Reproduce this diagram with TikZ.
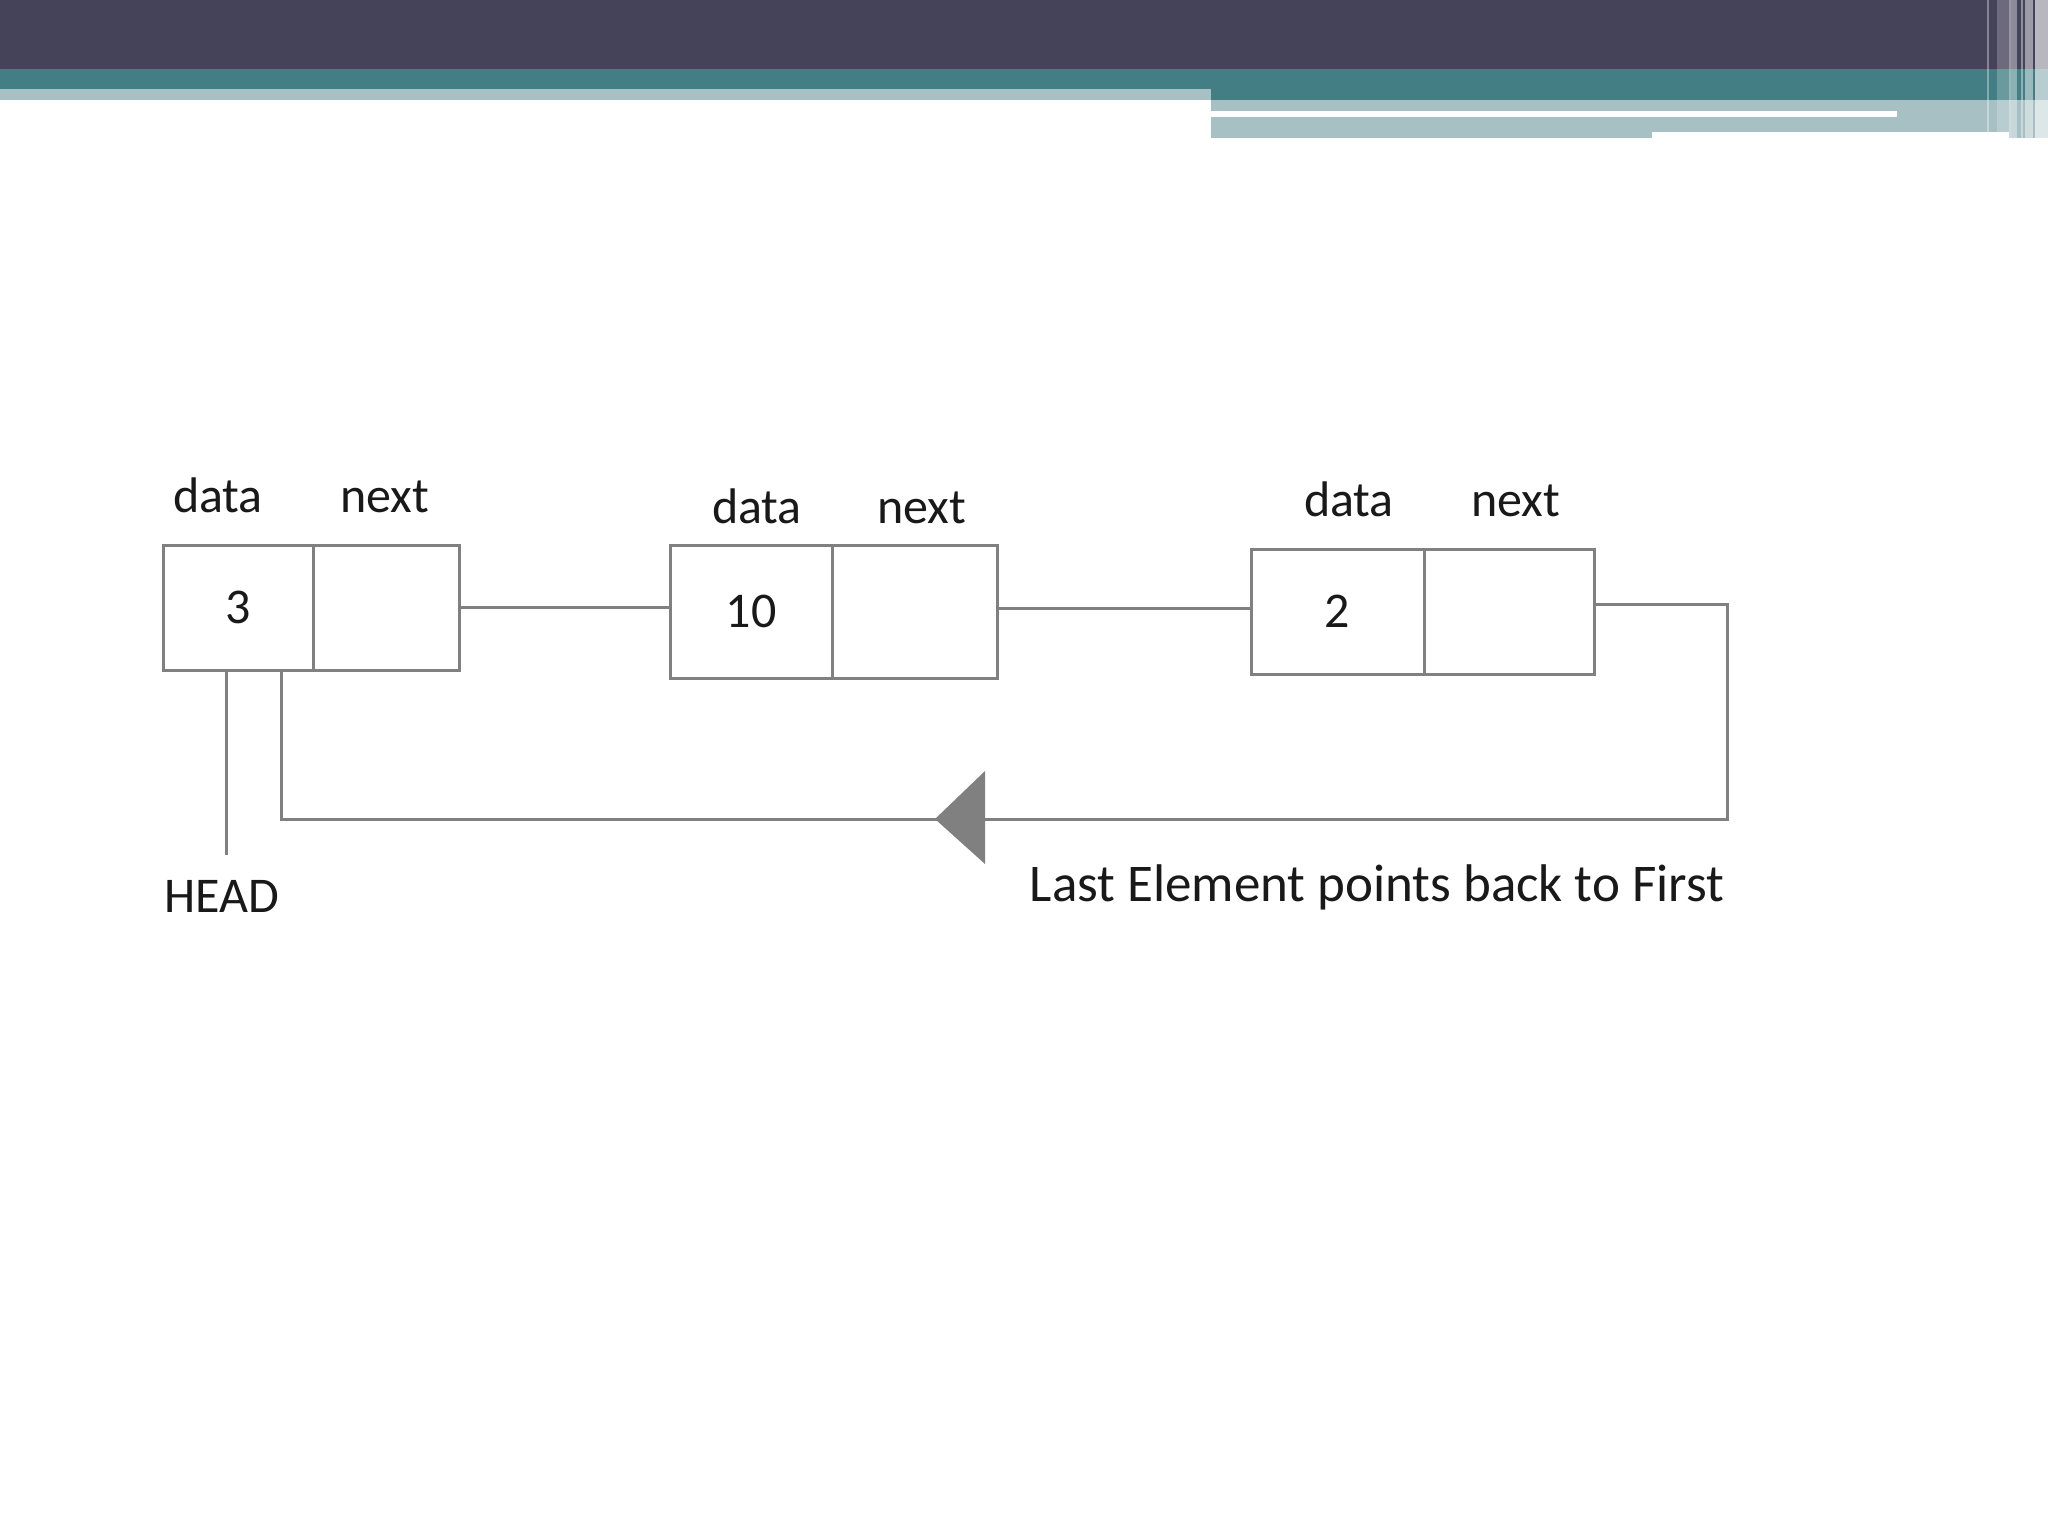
\documentclass[tikz,border=0pt]{standalone}
\usepackage{fontspec}
\setmainfont{Carlito}
\usetikzlibrary{arrows.meta}
\definecolor{bandDark}{RGB}{69,67,89}
\definecolor{bandTeal}{RGB}{67,126,132}
\definecolor{bandLight}{RGB}{166,192,196}
\definecolor{lineGray}{RGB}{128,128,128}
\tikzset{
  cell/.style={draw=lineGray, line width=1.5pt, rectangle, inner sep=0pt, font=\fontsize{25}{30}\selectfont, text=black!90},
  lbl/.style={anchor=base, inner sep=0pt, font=\fontsize{25}{30}\selectfont, text=black!90},
  conn/.style={draw=lineGray, line width=1.5pt},
  stripe/.style={fill=white, draw=none}
}
\begin{document}
\begin{tikzpicture}[x=0.5pt,y=-0.5pt]
\useasboundingbox (0,0) rectangle (2048,1536);
\fill[white] (0,0) rectangle (2048,1536);
% top band
\fill[bandDark] (0,0) rectangle (2048,69);
\fill[bandTeal] (0,69) rectangle (1211,89);
\fill[bandLight] (0,89) rectangle (1211,100);
\fill[bandTeal] (1211,69) rectangle (2048,100);
\fill[bandLight] (1211,100) rectangle (1652,138);
\fill[bandLight] (1652,100) rectangle (2009,132);
\fill[bandLight] (2009,100) rectangle (2048,138);
\fill[white] (1211,111) rectangle (1897,117);
% right-edge stripes
\fill[stripe, opacity=0.35] (1987,0) rectangle (1989,132);
\fill[stripe, opacity=0.21] (1997,0) rectangle (2009,132);
\fill[stripe, opacity=0.45] (2009,0) rectangle (2011,138);
\fill[stripe, opacity=0.39] (2011,0) rectangle (2017,138);
\fill[stripe, opacity=0.40] (2021,0) rectangle (2023,138);
\fill[stripe, opacity=0.47] (2025,0) rectangle (2033,138);
\fill[stripe, opacity=0.62] (2035,0) rectangle (2048,138);

% node 1
\node[cell, minimum width=75pt, minimum height=62.5pt] (d1) at (238,607.5) {3};
\node[cell, minimum width=73pt, minimum height=62.5pt] (n1) at (386,607.5) {};
% node 2
\node[cell, minimum width=81pt, minimum height=66.5pt] (d2) at (751,611.5) {10};
\node[cell, minimum width=82.5pt, minimum height=66.5pt] (n2) at (914.5,611.5) {};
% node 3
\node[cell, minimum width=86.5pt, minimum height=62.5pt] (d3) at (1337.5,611.5) {2};
\node[cell, minimum width=85pt, minimum height=62.5pt] (n3) at (1509,611.5) {};

% labels
\node[lbl] (ld1) at (218,512) {data};
\node[lbl] (ln1) at (385,512) {next};
\node[lbl] (ld2) at (757,523) {data};
\node[lbl] (ln2) at (922,523) {next};
\node[lbl] (ld3) at (1349,516) {data};
\node[lbl] (ln3) at (1516,516) {next};

\node[lbl, inner ysep=12.5pt] (head) at (222,912) {HEAD};
\node[lbl, font=\fontsize{26.5}{31}\selectfont] (cap) at (1377,901) {Last Element points back to First};

% connectors
\draw[conn] (n1.east) -- (n1.east -| d2.west);
\draw[conn] ([yshift=1.75pt]n2.east) -- ([yshift=1.75pt]n2.east -| d3.west);
\coordinate (corner) at (1727,819);
\coordinate (tip) at (935,819);
\draw[conn] ([yshift=3.75pt]n3.east) -| (corner) -- (tip);
\fill[lineGray] (tip) -- (985,771) -- (985,864) -- cycle;
\draw[conn] (tip) -| ([xshift=21.5pt]d1.south);
\draw[conn] ([xshift=-6pt]d1.south) -- ([xshift=-6pt]d1.south |- head.north);
\end{tikzpicture}
\end{document}
